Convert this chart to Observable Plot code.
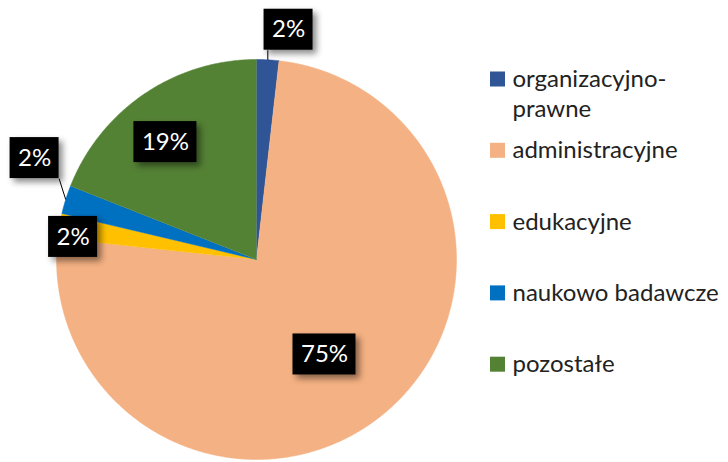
<!DOCTYPE html>
<html>
<head>
<meta charset="utf-8">
<script src="https://cdn.jsdelivr.net/npm/d3@7"></script>
<script src="https://cdn.jsdelivr.net/npm/@observablehq/plot@0.6"></script>
<style>
  html, body { margin: 0; padding: 0; background: #fff; }
  #chart svg { display: block; }
</style>
</head>
<body>
<div id="chart"></div>
<script>
// ---- data ----
const categories = ["organizacyjno-prawne", "administracyjne", "edukacyjne", "naukowo badawcze", "pozostałe"];
const shares = [1.8, 74.9, 2.0, 2.3, 19.0];
const valueLabels = ["2%", "75%", "2%", "2%", "19%"];
const legendLines = [["organizacyjno-", "prawne"], ["administracyjne"], ["edukacyjne"], ["naukowo badawcze"], ["pozostałe"]];
const colors = ["#2F5597", "#F4B183", "#FFC000", "#0070C0", "#548235"];

// ---- layout (style, not data) ----
const W = 728, H = 462;
const CX = 256, CY = 259, R = 200;
const FONT = "Lato, 'Open Sans', sans-serif";
const labelLayout = [ // radius factor, angle nudge (deg)
  {r: 1.16, da: 4.7},
  {r: 0.584, da: 3.1},
  {r: 0.924, da: -2.7},
  {r: 1.22, da: 7.1},
  {r: 0.743, da: -3.6}
];
const px2x = px => (px - CX) / R;
const py2y = py => (CY - py) / R;

const arcs = d3.pie().sort(null).value(d => d)(shares);
const polar = (a, r) => [r * Math.sin(a), r * Math.cos(a)];

// slice polygons
const slicePts = [];
arcs.forEach((a, i) => {
  const cat = categories[i];
  slicePts.push({cat, x: 0, y: 0});
  const n = Math.max(2, Math.ceil((a.endAngle - a.startAngle) / (Math.PI / 360)));
  for (let k = 0; k <= n; k++) {
    const t = a.startAngle + (a.endAngle - a.startAngle) * k / n;
    const [x, y] = polar(t, 1);
    slicePts.push({cat, x, y});
  }
});

// labels
const labels = arcs.map((a, i) => {
  const mid = (a.startAngle + a.endAngle) / 2;
  const L = labelLayout[i];
  const ang = mid + L.da * Math.PI / 180;
  const [x, y] = polar(ang, L.r);
  const text = valueLabels[i];
  const wpx = 21 + 14 * text.length, hpx = 41;
  const hw = wpx / 2 / R, hh = hpx / 2 / R;
  const [ex, ey] = polar(mid, 1);
  const bx = Math.max(x - hw, Math.min(x + hw, ex));
  const by = Math.max(y - hh, Math.min(y + hh, ey));
  return {cat: categories[i], text, x, y, x1: x - hw, x2: x + hw, y1: y - hh, y2: y + hh,
          lead: L.r > 1.05, ex, ey, bx, by};
});

// legend
const legendX = 490, legendTop = 79, legendStep = 71.3, lineGap = 30, sq = 15;
const legendSquares = categories.map((c, i) => {
  const cy = legendTop + i * legendStep;
  return {cat: c, x1: px2x(legendX), x2: px2x(legendX + sq), y1: py2y(cy - sq / 2), y2: py2y(cy + sq / 2)};
});
const legendTexts = [];
legendLines.forEach((lines, i) => {
  lines.forEach((t, j) => {
    legendTexts.push({text: t, x: px2x(legendX + 22), y: py2y(legendTop + i * legendStep + j * lineGap)});
  });
});

const chart = Plot.plot({
  width: W,
  height: H,
  marginLeft: CX - R,
  marginRight: W - (CX + R),
  marginTop: CY - R,
  marginBottom: H - (CY + R),
  x: {domain: [-1, 1], axis: null},
  y: {domain: [-1, 1], axis: null},
  color: {domain: categories, range: colors},
  style: {fontFamily: FONT, background: "#fff", overflow: "visible"},
  marks: [
    Plot.line(slicePts, {x: "x", y: "y", z: "cat", fill: "cat", stroke: "cat", strokeWidth: 0.5, curve: "linear"}),
    Plot.link(labels.filter(d => d.lead), {x1: "ex", y1: "ey", x2: "bx", y2: "by", stroke: "#000", strokeWidth: 1}),
    Plot.rect(labels, {x1: "x1", x2: "x2", y1: "y1", y2: "y2", fill: "#000"}),
    Plot.text(labels, {x: "x", y: "y", text: "text", fill: "#fff", fontSize: 24, textAnchor: "middle", lineAnchor: "middle"}),
    Plot.rect(legendSquares, {x1: "x1", x2: "x2", y1: "y1", y2: "y2", fill: "cat"}),
    Plot.text(legendTexts, {x: "x", y: "y", text: "text", fill: "#222", fontSize: 24, textAnchor: "start", lineAnchor: "middle"})
  ]
});

document.getElementById("chart").appendChild(chart);
// drop shadow on label boxes (first rect group)
const rectGroups = d3.select(chart).selectAll('g[aria-label="rect"]').nodes();
if (rectGroups.length) d3.select(rectGroups[0]).style("filter", "drop-shadow(4px 4px 3px rgba(0,0,0,0.45))");
</script>
</body>
</html>
